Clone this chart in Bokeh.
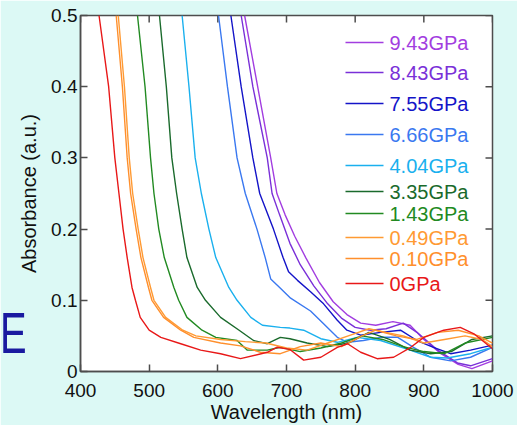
from bokeh.plotting import figure
from bokeh.models import Range1d, FixedTicker, ColumnDataSource
from bokeh.core.properties import value
from bokeh.embed import file_html
from bokeh.resources import INLINE

# ---------------- data ----------------
labels = ["9.43GPa", "8.43GPa", "7.55GPa", "6.66GPa", "4.04GPa",
          "3.35GPa", "1.43GPa", "0.49GPa", "0.10GPa", "0GPa"]
colors = ["#a23de0", "#7a30d8", "#1414c8", "#3a78f0", "#1ab0ee",
          "#1a6a2c", "#228a22", "#ff9a33", "#ff8f2c", "#e81818"]

wl_943 = [639, 658, 677, 686, 698, 712, 728, 748, 768, 788, 808, 830, 855, 880, 900, 925, 950, 970, 1000]
ab_943 = [0.5, 0.4, 0.3, 0.25, 0.22, 0.19, 0.16, 0.125, 0.098, 0.08, 0.068, 0.065, 0.07, 0.065, 0.045, 0.025, 0.01, 0.004, 0.015]

wl_843 = [634, 651, 672, 679, 690, 705, 720, 740, 760, 780, 800, 822, 845, 870, 890, 920, 949, 968, 1000]
ab_843 = [0.5, 0.4, 0.3, 0.25, 0.22, 0.18, 0.15, 0.12, 0.095, 0.075, 0.062, 0.058, 0.06, 0.068, 0.055, 0.03, 0.012, 0.008, 0.018]

wl_755 = [619, 634, 651, 661, 681, 695, 703, 716, 735, 754, 774, 788, 808, 837, 866, 890, 914, 939, 968, 1000]
ab_755 = [0.5, 0.4, 0.3, 0.25, 0.2, 0.16, 0.14, 0.128, 0.112, 0.095, 0.072, 0.058, 0.051, 0.055, 0.058, 0.0435, 0.034, 0.025, 0.03, 0.037]

wl_666 = [601, 614, 628, 640, 657, 669, 677, 690, 706, 735, 754, 774, 789, 812, 837, 862, 885, 910, 939, 968, 1000]
ab_666 = [0.5, 0.4, 0.3, 0.25, 0.2, 0.16, 0.13, 0.118, 0.103, 0.085, 0.067, 0.048, 0.041, 0.0435, 0.048, 0.048, 0.034, 0.02, 0.015, 0.02, 0.034]

wl_404 = [548, 558, 567, 576, 587, 597, 616, 628, 648, 665, 691, 705, 725, 750, 774, 803, 837, 880, 910, 934, 968, 1000]
ab_404 = [0.5, 0.4, 0.3, 0.25, 0.2, 0.16, 0.118, 0.1, 0.076, 0.065, 0.062, 0.061, 0.058, 0.046, 0.041, 0.048, 0.0435, 0.03, 0.02, 0.019, 0.025, 0.034]

wl_335 = [515, 525, 533, 540, 548, 555, 570, 582, 604, 631, 652, 672, 691, 705, 730, 760, 790, 820, 850, 880, 910, 940, 970, 1000]
ab_335 = [0.5, 0.4, 0.3, 0.25, 0.2, 0.16, 0.118, 0.1, 0.076, 0.058, 0.0435, 0.039, 0.048, 0.046, 0.04, 0.035, 0.04, 0.055, 0.045, 0.03, 0.025, 0.028, 0.045, 0.05]

wl_143 = [483, 494, 502, 507, 514, 522, 536, 543, 555, 577, 597, 628, 643, 672, 691, 720, 750, 780, 810, 840, 870, 900, 930, 960, 1000]
ab_143 = [0.5, 0.4, 0.3, 0.25, 0.2, 0.16, 0.118, 0.1, 0.076, 0.058, 0.048, 0.0435, 0.03, 0.03, 0.034, 0.028, 0.033, 0.04, 0.05, 0.045, 0.035, 0.028, 0.025, 0.04, 0.048]

wl_049 = [455, 464, 471, 476, 484, 491, 502, 507, 524, 549, 568, 604, 640, 670, 700, 730, 760, 790, 820, 845, 870, 900, 930, 960, 985, 1000]
ab_049 = [0.5, 0.4, 0.3, 0.25, 0.2, 0.16, 0.118, 0.1, 0.076, 0.058, 0.05, 0.045, 0.042, 0.04, 0.033, 0.03, 0.04, 0.05, 0.06, 0.055, 0.05, 0.04, 0.045, 0.05, 0.045, 0.035]

wl_010 = [452, 461, 468, 473, 481, 488, 499, 504, 521, 546, 565, 604, 633, 662, 691, 720, 750, 780, 810, 830, 860, 890, 920, 950, 980, 1000]
ab_010 = [0.5, 0.4, 0.3, 0.25, 0.2, 0.16, 0.118, 0.1, 0.076, 0.058, 0.048, 0.04, 0.036, 0.027, 0.025, 0.035, 0.04, 0.035, 0.05, 0.058, 0.05, 0.045, 0.055, 0.058, 0.05, 0.04]

wl_000 = [427, 441, 450, 456, 462, 468, 475, 480, 487, 500, 517, 546, 575, 604, 633, 672, 686, 705, 725, 750, 774, 789, 808, 832, 856, 881, 900, 929, 953, 973, 1000]
ab_000 = [0.5, 0.4, 0.3, 0.25, 0.2, 0.16, 0.118, 0.1, 0.076, 0.058, 0.048, 0.039, 0.03, 0.025, 0.018, 0.027, 0.034, 0.031, 0.016, 0.02, 0.034, 0.039, 0.027, 0.018, 0.02, 0.034, 0.048, 0.058, 0.062, 0.053, 0.032]

wavelengths = [wl_943, wl_843, wl_755, wl_666, wl_404, wl_335, wl_143, wl_049, wl_010, wl_000]
absorbances = [ab_943, ab_843, ab_755, ab_666, ab_404, ab_335, ab_143, ab_049, ab_010, ab_000]

x_ticks = [400, 500, 600, 700, 800, 900, 1000]
y_ticks = [0, 0.1, 0.2, 0.3, 0.4, 0.5]
y_tick_labels = ["0", "0.1", "0.2", "0.3", "0.4", "0.5"]

# ---------------- layout / style ----------------
FONT = "Liberation Sans"
BG = "#dcf9f5"
AX = "#4d4d4d"
W, H = 517, 425
ML, MR, MT, MB = 80, 25, 15, 54
X0, X1, Y0, Y1 = 400, 1000, 0.0, 0.5
FRAME_H = H - MT - MB
FRAME_W = W - ML - MR
TICK = 7

def px_to_dx(px):
    return px * (X1 - X0) / FRAME_W
def px_to_dy(px):
    return px * (Y1 - Y0) / FRAME_H

p = figure(width=W, height=H, output_backend="svg", toolbar_location=None,
           x_range=Range1d(X0, X1), y_range=Range1d(Y0, Y1),
           min_border_left=ML, min_border_right=MR, min_border_top=MT, min_border_bottom=MB,
           background_fill_color="white", border_fill_color=BG,
           outline_line_color=AX, outline_line_width=1.5)
p.grid.visible = False

def style_axis(ax):
    ax.axis_line_color = AX
    ax.axis_line_width = 1.5
    ax.major_tick_line_color = AX
    ax.major_tick_line_width = 1.5
    ax.major_tick_in = TICK
    ax.major_tick_out = 0
    ax.minor_tick_in = 0
    ax.minor_tick_out = 0
    ax.major_label_text_font = FONT
    ax.major_label_text_font_size = "19px"
    ax.major_label_text_color = "#111111"
    ax.axis_label_text_font = FONT
    ax.axis_label_text_font_size = "20px"
    ax.axis_label_text_font_style = "normal"
    ax.axis_label_text_color = "#111111"

xa = p.xaxis[0]
style_axis(xa)
xa.ticker = FixedTicker(ticks=x_ticks)
xa.axis_label = "Wavelength (nm)"
xa.major_label_standoff = 12
xa.axis_label_standoff = 1

ya = p.yaxis[0]
style_axis(ya)
ya.ticker = FixedTicker(ticks=y_ticks)
ya.major_label_overrides = dict(zip(y_ticks, y_tick_labels))
ya.axis_label = "Absorbance (a.u.)"
ya.major_label_standoff = 3
ya.axis_label_standoff = 8

# mirrored inward ticks on the top and right frame edges
p.segment(x0=x_ticks, y0=[Y1] * len(x_ticks), x1=x_ticks,
          y1=[Y1 - px_to_dy(TICK)] * len(x_ticks), line_color=AX, line_width=1.5)
p.segment(x0=[X1] * len(y_ticks), y0=y_ticks, x1=[X1 - px_to_dx(TICK)] * len(y_ticks),
          y1=y_ticks, line_color=AX, line_width=1.5)

# curves (drawn so that the low-pressure curves are on top)
for wl, ab, c in zip(wavelengths, absorbances, colors):
    p.line(wl, ab, line_color=c, line_width=1.4)

# legend: rows positioned in pixels from the frame's top-left, converted to data units
legend_rows_px = [27, 57, 88, 119, 150, 176, 198, 222, 243, 268]
line_px = (265, 303)
text_px = 309
ly = [Y1 - px_to_dy(v) for v in legend_rows_px]
n = len(labels)
src = ColumnDataSource(dict(
    x0=[X0 + px_to_dx(line_px[0])] * n, x1=[X0 + px_to_dx(line_px[1])] * n,
    xt=[X0 + px_to_dx(text_px)] * n, y=ly, label=labels, color=colors))
p.segment(x0="x0", y0="y", x1="x1", y1="y", line_color="color", line_width=1.4, source=src)
p.text(x="xt", y="y", text="label", text_color="color", text_font=value(FONT),
       text_font_size="20px", text_baseline="middle", text_align="left", source=src)

html = file_html(p, INLINE)

# fragment of the slide's text at the far left edge (an overlay on top of the page)
slide_fragment = ('<div style="position:fixed;left:0px;top:305px;z-index:1000;'
                  "font-family:'Liberation Sans';font-size:57px;line-height:57px;"
                  'color:#1a1aa0;transform:scaleX(0.7);transform-origin:0 0;'
                  'pointer-events:none;">E</div>\n')
idx = html.rfind("</body>")
if idx != -1:
    html = html[:idx] + slide_fragment + html[idx:]

open("out.html", "w").write(html)
